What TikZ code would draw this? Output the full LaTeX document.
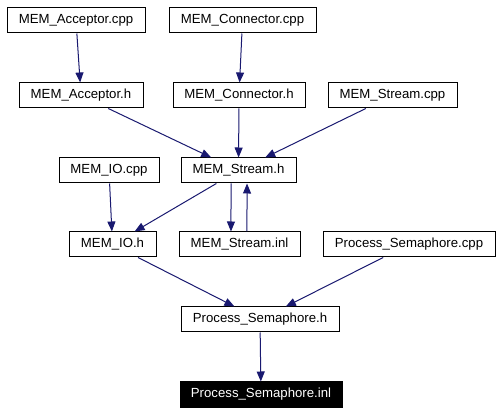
\documentclass[tikz,border=0pt]{standalone}
\usepackage{fontspec}
\setmainfont{Liberation Sans}
\usetikzlibrary{arrows.meta}
\definecolor{edgeblue}{RGB}{25,25,112}
\begin{document}
\begin{tikzpicture}[x=0.75pt,y=-0.75pt,
  filebox/.style={draw=black,line width=0.75pt,fill=white,minimum height=18.75pt,inner sep=0pt,font=\fontsize{9.9}{12}\selectfont},
  curbox/.style={filebox,fill=black,text=white},
  dep/.style={draw=edgeblue,line width=0.75pt,-{Triangle[length=7.5pt,width=6pt]}}]
\useasboundingbox[fill=white] (0,0) rectangle (500,413);
\node[filebox,minimum width=103.5pt] (acpp) at (76,20.5) {MEM\_Acceptor.cpp};
\node[filebox,minimum width=110.25pt] (ccpp) at (242.5,20.5) {MEM\_Connector.cpp};
\node[filebox,minimum width=93pt] (ah) at (81,95.5) {MEM\_Acceptor.h};
\node[filebox,minimum width=99pt] (ch) at (239,95.5) {MEM\_Connector.h};
\node[filebox,minimum width=96.75pt] (scpp) at (392.5,95.5) {MEM\_Stream.cpp};
\node[filebox,minimum width=75pt] (iocpp) at (109,170.5) {MEM\_IO.cpp};
\node[filebox,minimum width=86.25pt] (sh) at (238.5,170.5) {MEM\_Stream.h};
\node[filebox,minimum width=65.25pt] (ioh) at (112.5,244.5) {MEM\_IO.h};
\node[filebox,minimum width=90.75pt] (sinl) at (239.5,244.5) {MEM\_Stream.inl};
\node[filebox,minimum width=129pt] (pscpp) at (409,244.5) {Process\_Semaphore.cpp};
\node[filebox,minimum width=118.5pt] (psh) at (260,319.5) {Process\_Semaphore.h};
\node[curbox,minimum width=121.5pt] (psinl) at (261,394.5) {Process\_Semaphore.inl};
\draw[dep] (acpp) -- (ah);
\draw[dep] (ccpp) -- (ch);
\draw[dep] (ah) -- (sh);
\draw[dep] (ch) -- (sh);
\draw[dep] (scpp) -- (sh);
\draw[dep] (iocpp) -- (ioh);
\draw[dep] (sh) -- (ioh);
\draw[dep] ([xshift=-5.6pt]sh.south) -- ([xshift=-6.4pt]sinl.north);
\draw[dep] ([xshift=5.6pt]sinl.north) -- ([xshift=6.4pt]sh.south);
\draw[dep] (ioh) -- (psh);
\draw[dep] (pscpp) -- (psh);
\draw[dep] (psh) -- (psinl);
\end{tikzpicture}
\end{document}
